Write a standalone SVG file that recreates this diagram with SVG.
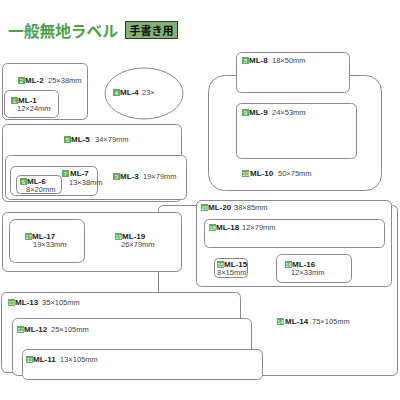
<svg xmlns="http://www.w3.org/2000/svg" width="400" height="400" viewBox="0 0 400 400">
<defs>
<style>
.box{fill:#fff;stroke:#8a8a8a;stroke-width:1}
.nm{font-family:"Liberation Sans",Arial,sans-serif;font-size:8px;font-weight:bold;fill:#222}
.dm{font-family:"Liberation Sans",Arial,sans-serif;font-size:7.5px;fill:#444}
.bg{fill:#5fae5a}
.bn{font-family:"Liberation Sans",Arial,sans-serif;font-size:6px;fill:#fff;text-anchor:middle}
</style>
</defs>
<rect width="400" height="400" fill="#fff"/>
<g id="title">
<text x="8" y="37" font-family="'Noto Sans CJK JP',sans-serif" font-size="15.5" font-weight="bold" fill="#4ba345" textLength="110" lengthAdjust="spacingAndGlyphs">一般無地ラベル</text>
<rect x="125.5" y="21.5" width="52" height="17" fill="#7fb473" stroke="#333" stroke-width="1"/>
<text x="151.5" y="34.5" text-anchor="middle" font-family="'Noto Sans CJK JP',sans-serif" font-size="11" font-weight="bold" fill="#111">手書き用</text>
</g>
<g id="connectors"></g>
<g id="ML-14"><rect class="box" x="158.5" y="205.5" width="239" height="170" rx="5"/>
<rect class="bg" x="277" y="318" width="7" height="7"/><text class="bn" x="280.5" y="324">14</text>
<text class="nm" x="285" y="324">ML-14</text><text class="dm" x="312" y="324">75×105mm</text></g>
<g id="ML-19"><rect class="box" x="2.5" y="212.5" width="179" height="59" rx="5"/>
<rect class="bg" x="115" y="233" width="7" height="7"/><text class="bn" x="118.5" y="239">19</text>
<text class="nm" x="122" y="239">ML-19</text><text class="dm" x="121" y="247">26×79mm</text></g>
<g id="ML-17"><rect class="box" x="9.5" y="219.5" width="75" height="43" rx="6"/>
<rect class="bg" x="25" y="233" width="7" height="7"/><text class="bn" x="28.5" y="239">17</text>
<text class="nm" x="32" y="239">ML-17</text><text class="dm" x="33" y="247">19×33mm</text></g>
<g id="ML-20"><rect class="box" x="196.5" y="200.5" width="195" height="86" rx="5"/>
<rect class="bg" x="201" y="204" width="7" height="7"/><text class="bn" x="204.5" y="210">20</text>
<text class="nm" x="208" y="210">ML-20</text><text class="dm" x="234" y="210">38×85mm</text></g>
<g id="ML-18"><rect class="box" x="204.5" y="219.5" width="180" height="28" rx="5"/>
<rect class="bg" x="209" y="224" width="7" height="7"/><text class="bn" x="212.5" y="230">18</text>
<text class="nm" x="216" y="230">ML-18</text><text class="dm" x="242" y="230">12×79mm</text></g>
<g id="ML-15"><rect class="box" x="214.5" y="258.5" width="33" height="19" rx="4"/>
<rect class="bg" x="217" y="261" width="7" height="7"/><text class="bn" x="220.5" y="267">15</text>
<text class="nm" x="224" y="267">ML-15</text><text class="dm" x="217" y="275">8×15mm</text></g>
<g id="ML-16"><rect class="box" x="276.5" y="254.5" width="75" height="28" rx="5"/>
<rect class="bg" x="285" y="261" width="7" height="7"/><text class="bn" x="288.5" y="267">16</text>
<text class="nm" x="292" y="267">ML-16</text><text class="dm" x="291" y="275">12×33mm</text></g>
<g id="ML-13"><rect class="box" x="1.5" y="292.5" width="239" height="80" rx="5"/>
<rect class="bg" x="8" y="299" width="7" height="7"/><text class="bn" x="11.5" y="305">13</text>
<text class="nm" x="15" y="305">ML-13</text><text class="dm" x="42" y="305">35×105mm</text></g>
<g id="ML-12"><rect class="box" x="12.5" y="318.5" width="239" height="57" rx="5"/>
<rect class="bg" x="17" y="326" width="7" height="7"/><text class="bn" x="20.5" y="332">12</text>
<text class="nm" x="24" y="332">ML-12</text><text class="dm" x="51" y="332">25×105mm</text></g>
<g id="ML-11"><rect class="box" x="22.5" y="349.5" width="240" height="30" rx="5"/>
<rect class="bg" x="26" y="356" width="7" height="7"/><text class="bn" x="29.5" y="362">11</text>
<text class="nm" x="33" y="362">ML-11</text><text class="dm" x="60" y="362">13×105mm</text></g>
<g id="ML-10"><rect class="box" x="208.5" y="75.5" width="173" height="115" rx="16"/>
<rect class="bg" x="242" y="170" width="7" height="7"/><text class="bn" x="245.5" y="176">10</text>
<text class="nm" x="250" y="176">ML-10</text><text class="dm" x="278" y="176">50×75mm</text></g>
<g id="ML-8"><rect class="box" x="236.5" y="52.5" width="113" height="40" rx="5"/>
<rect class="bg" x="242" y="57" width="7" height="7"/><text class="bn" x="245.5" y="63">8</text>
<text class="nm" x="249" y="63">ML-8</text><text class="dm" x="272" y="63">18×50mm</text></g>
<g id="ML-9"><rect class="box" x="236.5" y="103.5" width="120" height="55" rx="5"/>
<rect class="bg" x="242" y="109" width="7" height="7"/><text class="bn" x="245.5" y="115">9</text>
<text class="nm" x="249" y="115">ML-9</text><text class="dm" x="272" y="115">24×53mm</text></g>
<g id="ML-5"><rect class="box" x="2.5" y="124.5" width="179" height="77" rx="5"/>
<rect class="bg" x="64" y="136" width="7" height="7"/><text class="bn" x="67.5" y="142">5</text>
<text class="nm" x="71" y="142">ML-5</text><text class="dm" x="95" y="142">34×79mm</text></g>
<g id="ML-3"><rect class="box" x="5.5" y="155.5" width="181" height="44" rx="5"/>
<rect class="bg" x="113" y="173" width="7" height="7"/><text class="bn" x="116.5" y="179">3</text>
<text class="nm" x="120" y="179">ML-3</text><text class="dm" x="143" y="179">19×79mm</text></g>
<g id="ML-7"><rect class="box" x="10.5" y="166.5" width="87" height="29" rx="5"/>
<rect class="bg" x="62" y="170" width="7" height="7"/><text class="bn" x="65.5" y="176">7</text>
<text class="nm" x="70" y="176">ML-7</text><text class="dm" x="69" y="185">13×38mm</text></g>
<g id="ML-6"><rect class="box" x="16.5" y="175.5" width="45" height="18" rx="4"/>
<rect class="bg" x="20" y="178" width="7" height="7"/><text class="bn" x="23.5" y="184">6</text>
<text class="nm" x="27" y="184">ML-6</text><text class="dm" x="26" y="192">8×20mm</text></g>
<g id="ML-2"><rect class="box" x="2.5" y="63.5" width="85" height="56" rx="5"/>
<rect class="bg" x="18" y="77" width="7" height="7"/><text class="bn" x="21.5" y="83">2</text>
<text class="nm" x="25" y="83">ML-2</text><text class="dm" x="48" y="83">25×38mm</text></g>
<g id="ML-1"><rect class="box" x="4.5" y="90.5" width="54" height="27" rx="5"/>
<rect class="bg" x="11" y="97" width="7" height="7"/><text class="bn" x="14.5" y="103">1</text>
<text class="nm" x="18" y="103">ML-1</text><text class="dm" x="17" y="111">12×24mm</text></g>
<g id="ML-4"><ellipse class="box" cx="144" cy="93.5" rx="39" ry="25.5"/>
<rect class="bg" x="113" y="89" width="7" height="7"/><text class="bn" x="116.5" y="95">4</text>
<text class="nm" x="120" y="95">ML-4</text><text class="dm" x="142" y="95">23×</text></g>
</svg>
